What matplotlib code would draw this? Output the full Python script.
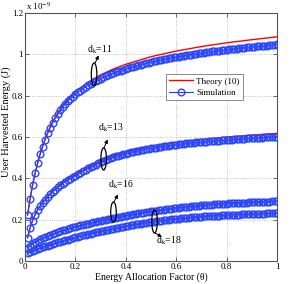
import matplotlib
matplotlib.use("Agg")
import matplotlib.pyplot as plt
from matplotlib.patches import Ellipse

plt.rcParams['font.family'] = ['Liberation Serif', 'DejaVu Serif']
plt.rcParams['mathtext.fontset'] = 'stix'

# ---------------- data (energy in units of 1e-9 J) ----------------
theta_sim = [0.01, 0.02, 0.03, 0.04, 0.05, 0.06, 0.07, 0.08, 0.09, 0.10,
             0.11, 0.12, 0.13, 0.14, 0.15, 0.16, 0.17, 0.18, 0.19, 0.20,
             0.21, 0.22, 0.23, 0.24, 0.25, 0.26, 0.27, 0.28, 0.29, 0.30,
             0.31, 0.32, 0.33, 0.34, 0.35, 0.36, 0.37, 0.38, 0.39, 0.40,
             0.41, 0.42, 0.43, 0.44, 0.45, 0.46, 0.47, 0.48, 0.49, 0.50,
             0.51, 0.52, 0.53, 0.54, 0.55, 0.56, 0.57, 0.58, 0.59, 0.60,
             0.61, 0.62, 0.63, 0.64, 0.65, 0.66, 0.67, 0.68, 0.69, 0.70,
             0.71, 0.72, 0.73, 0.74, 0.75, 0.76, 0.77, 0.78, 0.79, 0.80,
             0.81, 0.82, 0.83, 0.84, 0.85, 0.86, 0.87, 0.88, 0.89, 0.90,
             0.91, 0.92, 0.93, 0.94, 0.95, 0.96, 0.97, 0.98, 0.99, 1.00]

sim_d11 = [0.223, 0.300, 0.367, 0.424, 0.473, 0.516, 0.554, 0.588, 0.618, 0.645,
           0.669, 0.691, 0.711, 0.729, 0.745, 0.760, 0.773, 0.785, 0.796, 0.806,
           0.816, 0.825, 0.834, 0.842, 0.850, 0.857, 0.864, 0.871, 0.877, 0.883,
           0.889, 0.894, 0.899, 0.904, 0.909, 0.914, 0.918, 0.922, 0.926, 0.930,
           0.934, 0.938, 0.941, 0.945, 0.948, 0.951, 0.954, 0.957, 0.960, 0.963,
           0.966, 0.968, 0.971, 0.973, 0.976, 0.978, 0.981, 0.983, 0.985, 0.987,
           0.989, 0.991, 0.993, 0.995, 0.997, 0.999, 1.001, 1.003, 1.005, 1.007,
           1.009, 1.010, 1.012, 1.014, 1.015, 1.017, 1.018, 1.020, 1.021, 1.023,
           1.024, 1.026, 1.027, 1.028, 1.030, 1.031, 1.032, 1.034, 1.035, 1.036,
           1.037, 1.039, 1.040, 1.041, 1.042, 1.043, 1.045, 1.046, 1.047, 1.049]

sim_d13 = [0.112, 0.160, 0.196, 0.224, 0.247, 0.266, 0.282, 0.297, 0.310, 0.323,
           0.335, 0.346, 0.356, 0.366, 0.375, 0.384, 0.392, 0.399, 0.406, 0.413,
           0.420, 0.427, 0.434, 0.441, 0.448, 0.454, 0.460, 0.466, 0.472, 0.478,
           0.483, 0.488, 0.493, 0.498, 0.502, 0.506, 0.510, 0.514, 0.517, 0.520,
           0.523, 0.526, 0.529, 0.532, 0.534, 0.537, 0.539, 0.541, 0.543, 0.545,
           0.547, 0.549, 0.551, 0.553, 0.555, 0.557, 0.558, 0.560, 0.562, 0.563,
           0.565, 0.566, 0.568, 0.569, 0.570, 0.572, 0.573, 0.574, 0.575, 0.576,
           0.577, 0.578, 0.579, 0.580, 0.581, 0.582, 0.583, 0.584, 0.585, 0.586,
           0.587, 0.588, 0.589, 0.590, 0.590, 0.591, 0.592, 0.593, 0.594, 0.594,
           0.595, 0.596, 0.597, 0.597, 0.598, 0.599, 0.600, 0.600, 0.601, 0.602]

sim_d16 = [0.062, 0.074, 0.084, 0.092, 0.099, 0.105, 0.111, 0.116, 0.121, 0.126,
           0.131, 0.135, 0.140, 0.144, 0.148, 0.152, 0.156, 0.159, 0.163, 0.166,
           0.169, 0.172, 0.175, 0.178, 0.181, 0.184, 0.187, 0.190, 0.192, 0.195,
           0.198, 0.200, 0.203, 0.205, 0.208, 0.210, 0.212, 0.215, 0.217, 0.219,
           0.221, 0.224, 0.226, 0.228, 0.230, 0.232, 0.234, 0.236, 0.238, 0.240,
           0.242, 0.244, 0.245, 0.247, 0.249, 0.250, 0.252, 0.254, 0.255, 0.257,
           0.258, 0.259, 0.261, 0.262, 0.263, 0.264, 0.266, 0.267, 0.268, 0.269,
           0.270, 0.271, 0.272, 0.273, 0.274, 0.275, 0.276, 0.277, 0.277, 0.278,
           0.279, 0.280, 0.280, 0.281, 0.282, 0.282, 0.283, 0.283, 0.284, 0.284,
           0.285, 0.285, 0.286, 0.286, 0.286, 0.287, 0.287, 0.288, 0.288, 0.288]

sim_d18 = [0.037, 0.044, 0.050, 0.054, 0.058, 0.063, 0.067, 0.071, 0.075, 0.079,
           0.083, 0.087, 0.091, 0.094, 0.098, 0.101, 0.104, 0.108, 0.111, 0.114,
           0.117, 0.121, 0.124, 0.127, 0.130, 0.133, 0.136, 0.139, 0.141, 0.144,
           0.147, 0.149, 0.152, 0.154, 0.157, 0.159, 0.161, 0.164, 0.166, 0.168,
           0.170, 0.172, 0.175, 0.177, 0.179, 0.181, 0.183, 0.185, 0.187, 0.189,
           0.191, 0.192, 0.194, 0.196, 0.197, 0.199, 0.200, 0.202, 0.203, 0.204,
           0.205, 0.207, 0.208, 0.209, 0.210, 0.211, 0.212, 0.213, 0.214, 0.215,
           0.216, 0.217, 0.217, 0.218, 0.219, 0.220, 0.220, 0.221, 0.222, 0.223,
           0.223, 0.224, 0.224, 0.225, 0.225, 0.226, 0.226, 0.227, 0.227, 0.228,
           0.228, 0.228, 0.229, 0.229, 0.229, 0.230, 0.230, 0.230, 0.231, 0.231]

theta_th = [0.01, 0.02, 0.03, 0.04, 0.05, 0.06, 0.07, 0.08, 0.09, 0.10,
            0.12, 0.14, 0.16, 0.18, 0.20, 0.25, 0.30, 0.35, 0.40,
            0.50, 0.60, 0.70, 0.80, 0.90, 1.00]

th_d11 = [0.223, 0.300, 0.368, 0.425, 0.475, 0.519, 0.557, 0.592, 0.622, 0.650,
          0.697, 0.737, 0.769, 0.795, 0.818, 0.865, 0.901, 0.929, 0.952,
          0.989, 1.016, 1.038, 1.056, 1.071, 1.085]
th_d13 = [0.112, 0.160, 0.196, 0.224, 0.248, 0.267, 0.283, 0.298, 0.312, 0.325,
          0.349, 0.370, 0.389, 0.404, 0.417, 0.453, 0.484, 0.509, 0.528,
          0.555, 0.574, 0.588, 0.600, 0.609, 0.618]
th_d16 = [0.062, 0.074, 0.084, 0.092, 0.099, 0.105, 0.111, 0.116, 0.121, 0.126,
          0.135, 0.144, 0.152, 0.160, 0.167, 0.182, 0.196, 0.209, 0.220,
          0.241, 0.258, 0.271, 0.280, 0.286, 0.290]
th_d18 = [0.037, 0.044, 0.050, 0.054, 0.058, 0.063, 0.067, 0.071, 0.075, 0.079,
          0.087, 0.094, 0.101, 0.108, 0.114, 0.130, 0.144, 0.157, 0.169,
          0.190, 0.205, 0.216, 0.224, 0.229, 0.232]

theory = [th_d11, th_d13, th_d16, th_d18]
simulation = [sim_d11, sim_d13, sim_d16, sim_d18]

xticks = [0, 0.2, 0.4, 0.6, 0.8, 1]
xticklabels = ['0', '0.2', '0.4', '0.6', '0.8', '1']
yticks = [0, 0.2, 0.4, 0.6, 0.8, 1.0, 1.2]
yticklabels = ['0', '0.2', '0.4', '0.6', '0.8', '1', '1.2']

# ---------------- figure ----------------
fig = plt.figure(figsize=(2.91, 2.84), dpi=100)
ax = fig.add_axes([0.086, 0.081, 0.866, 0.873])

for i, (th, sm) in enumerate(zip(theory, simulation)):
    ax.plot(theta_th, th, color='red', lw=1.0, zorder=2,
            label='Theory (10)' if i == 0 else None)
    ax.plot(theta_sim, sm, color='#1f3dff', lw=0.8, marker='o', markersize=4.8,
            markerfacecolor='none', markeredgecolor='#2a46ff', markeredgewidth=1.0,
            zorder=3, label='Simulation' if i == 0 else None)

ax.set_xlim(0, 1)
ax.set_ylim(0, 1.2)
ax.set_xticks(xticks)
ax.set_xticklabels(xticklabels)
ax.set_yticks(yticks)
ax.set_yticklabels(yticklabels)
ax.tick_params(direction='in', length=3, width=0.5, labelsize=6.5, pad=1.5,
               top=True, right=True, colors='#333333', labelcolor='black')
ax.grid(True, linestyle=':', color='#b0b0b0', lw=0.6)
for s in ax.spines.values():
    s.set_color('#555555')
    s.set_linewidth(0.8)

ax.set_xlabel('Energy Allocation Factor (θ)', fontsize=7, labelpad=1)
fig.text(6 / 291, 1 - 122 / 284, 'User Harvested Energy (J)', fontsize=7.5,
         rotation=90, ha='center', va='center')
ax.text(0.005, 1.003, r'x 10$^{-9}$', transform=ax.transAxes, fontsize=6.5,
        ha='left', va='bottom')

leg = ax.legend(loc='lower left', bbox_to_anchor=(0.56, 0.65), fontsize=6.5,
                frameon=True, fancybox=False, handlelength=2.6,
                borderpad=0.35, labelspacing=0.3, handletextpad=0.4,
                borderaxespad=0)
leg.get_frame().set_edgecolor('#555555')
leg.get_frame().set_linewidth(0.6)

# ---------------- annotations ----------------
ann = [
    # (ellipse center, height, arrow start, arrow end, text pos, label)
    ((0.274, 0.903), 0.111, (0.278, 0.958), (0.292, 0.995), (0.246, 1.022), r'd$_\mathrm{k}$=11'),
    ((0.312, 0.494), 0.107, (0.313, 0.547), (0.328, 0.588), (0.288, 0.644), r'd$_\mathrm{k}$=13'),
    ((0.351, 0.237), 0.097, (0.353, 0.286), (0.369, 0.322), (0.331, 0.368), r'd$_\mathrm{k}$=16'),
    ((0.514, 0.191), 0.111, (0.516, 0.136), (0.543, 0.116), (0.520, 0.097), r'd$_\mathrm{k}$=18'),
]
for (c, h, a0, a1, tp, lab) in ann:
    ax.add_patch(Ellipse(c, width=0.022, height=h, fill=False, edgecolor='black',
                         lw=0.9, zorder=5))
    ax.annotate('', xy=a1, xytext=a0,
                arrowprops=dict(arrowstyle='-|>', color='black', lw=0.7,
                                mutation_scale=5, shrinkA=0, shrinkB=0), zorder=5)
    ax.text(tp[0], tp[1], lab, fontsize=7, ha='left', va='center', zorder=6)

fig.savefig('out.png', dpi=100)
